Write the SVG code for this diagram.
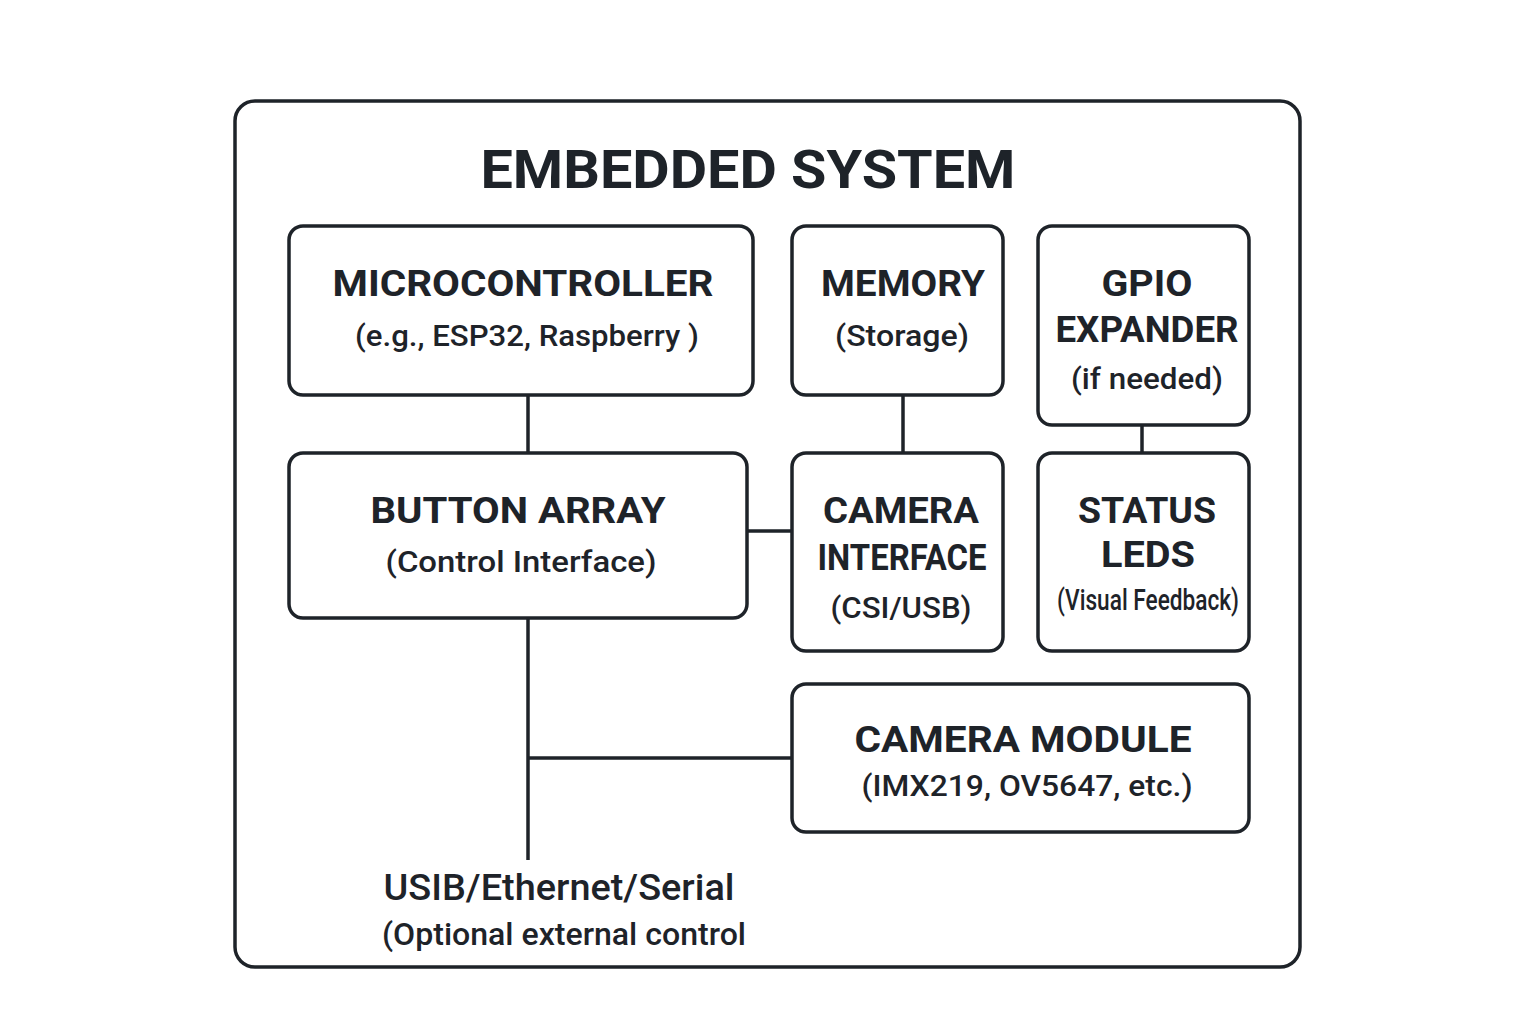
<svg xmlns="http://www.w3.org/2000/svg" width="1536" height="1024" viewBox="0 0 1536 1024">
<style>
.box{fill:#fff;stroke:#1e2329;stroke-width:3.5}
.ln{stroke:#1e2329;stroke-width:3.5;fill:none}
text{font-family:Roboto,"Liberation Sans",Arial,sans-serif;fill:#1e2329;text-anchor:middle}
.h{font-weight:bold;font-size:37px}
.s{font-size:30px;font-weight:500}
.t{font-weight:bold;font-size:54px}
</style>
<rect width="1536" height="1024" fill="#fff"/>
<g id="system">
<rect class="box" x="235" y="101" width="1065" height="866" rx="20"/>
<text class="t" x="748" y="188" textLength="535" lengthAdjust="spacingAndGlyphs">EMBEDDED SYSTEM</text>
</g>
<g id="connectors">
<line class="ln" x1="528" y1="395" x2="528" y2="453"/>
<line class="ln" x1="903" y1="395" x2="903" y2="453"/>
<line class="ln" x1="1142" y1="425" x2="1142" y2="453"/>
<line class="ln" x1="747" y1="531" x2="792" y2="531"/>
<line class="ln" x1="528" y1="618" x2="528" y2="860"/>
<line class="ln" x1="528" y1="758" x2="792" y2="758"/>
</g>
<g id="microcontroller">
<rect class="box" x="289" y="226" width="464" height="169" rx="14"/>
<text class="h" x="523" y="296" textLength="381" lengthAdjust="spacingAndGlyphs">MICROCONTROLLER</text>
<text class="s" x="527" y="346" textLength="344" lengthAdjust="spacingAndGlyphs">(e.g., ESP32, Raspberry )</text>
</g>
<g id="memory">
<rect class="box" x="792" y="226" width="211" height="169" rx="14"/>
<text class="h" x="903" y="296" textLength="164" lengthAdjust="spacingAndGlyphs">MEMORY</text>
<text class="s" x="902" y="346" textLength="134" lengthAdjust="spacingAndGlyphs">(Storage)</text>
</g>
<g id="gpio">
<rect class="box" x="1038" y="226" width="211" height="199" rx="14"/>
<text class="h" x="1147" y="296" textLength="91" lengthAdjust="spacingAndGlyphs">GPIO</text>
<text class="h" x="1147" y="342" textLength="183" lengthAdjust="spacingAndGlyphs">EXPANDER</text>
<text class="s" x="1147" y="389" textLength="152" lengthAdjust="spacingAndGlyphs">(if needed)</text>
</g>
<g id="button_array">
<rect class="box" x="289" y="453" width="458" height="165" rx="14"/>
<text class="h" x="518" y="523" textLength="295" lengthAdjust="spacingAndGlyphs">BUTTON ARRAY</text>
<text class="s" x="521" y="572" textLength="271" lengthAdjust="spacingAndGlyphs">(Control Interface)</text>
</g>
<g id="camera_interface">
<rect class="box" x="792" y="453" width="211" height="198" rx="14"/>
<text class="h" x="901" y="523" textLength="156" lengthAdjust="spacingAndGlyphs">CAMERA</text>
<text class="h" x="902" y="570" font-size="34" textLength="169" lengthAdjust="spacingAndGlyphs">INTERFACE</text>
<text class="s" x="901" y="618" textLength="141" lengthAdjust="spacingAndGlyphs">(CSI/USB)</text>
</g>
<g id="status_leds">
<rect class="box" x="1038" y="453" width="211" height="198" rx="14"/>
<text class="h" x="1147" y="523" textLength="138" lengthAdjust="spacingAndGlyphs">STATUS</text>
<text class="h" x="1148" y="567" textLength="94" lengthAdjust="spacingAndGlyphs">LEDS</text>
<text class="s" x="1148" y="610" font-size="24" textLength="182" lengthAdjust="spacingAndGlyphs">(Visual Feedback)</text>
</g>
<g id="camera_module">
<rect class="box" x="792" y="684" width="457" height="148" rx="14"/>
<text class="h" x="1023" y="752" textLength="337" lengthAdjust="spacingAndGlyphs">CAMERA MODULE</text>
<text class="s" x="1027" y="796" textLength="331" lengthAdjust="spacingAndGlyphs">(IMX219, OV5647, etc.)</text>
</g>
<g id="external">
<text x="559" y="900" font-size="36" font-weight="500" textLength="351" lengthAdjust="spacingAndGlyphs">USIB/Ethernet/Serial</text>
<text x="564" y="945" font-size="32" font-weight="500" textLength="364" lengthAdjust="spacingAndGlyphs">(Optional external control</text>
</g>
</svg>
